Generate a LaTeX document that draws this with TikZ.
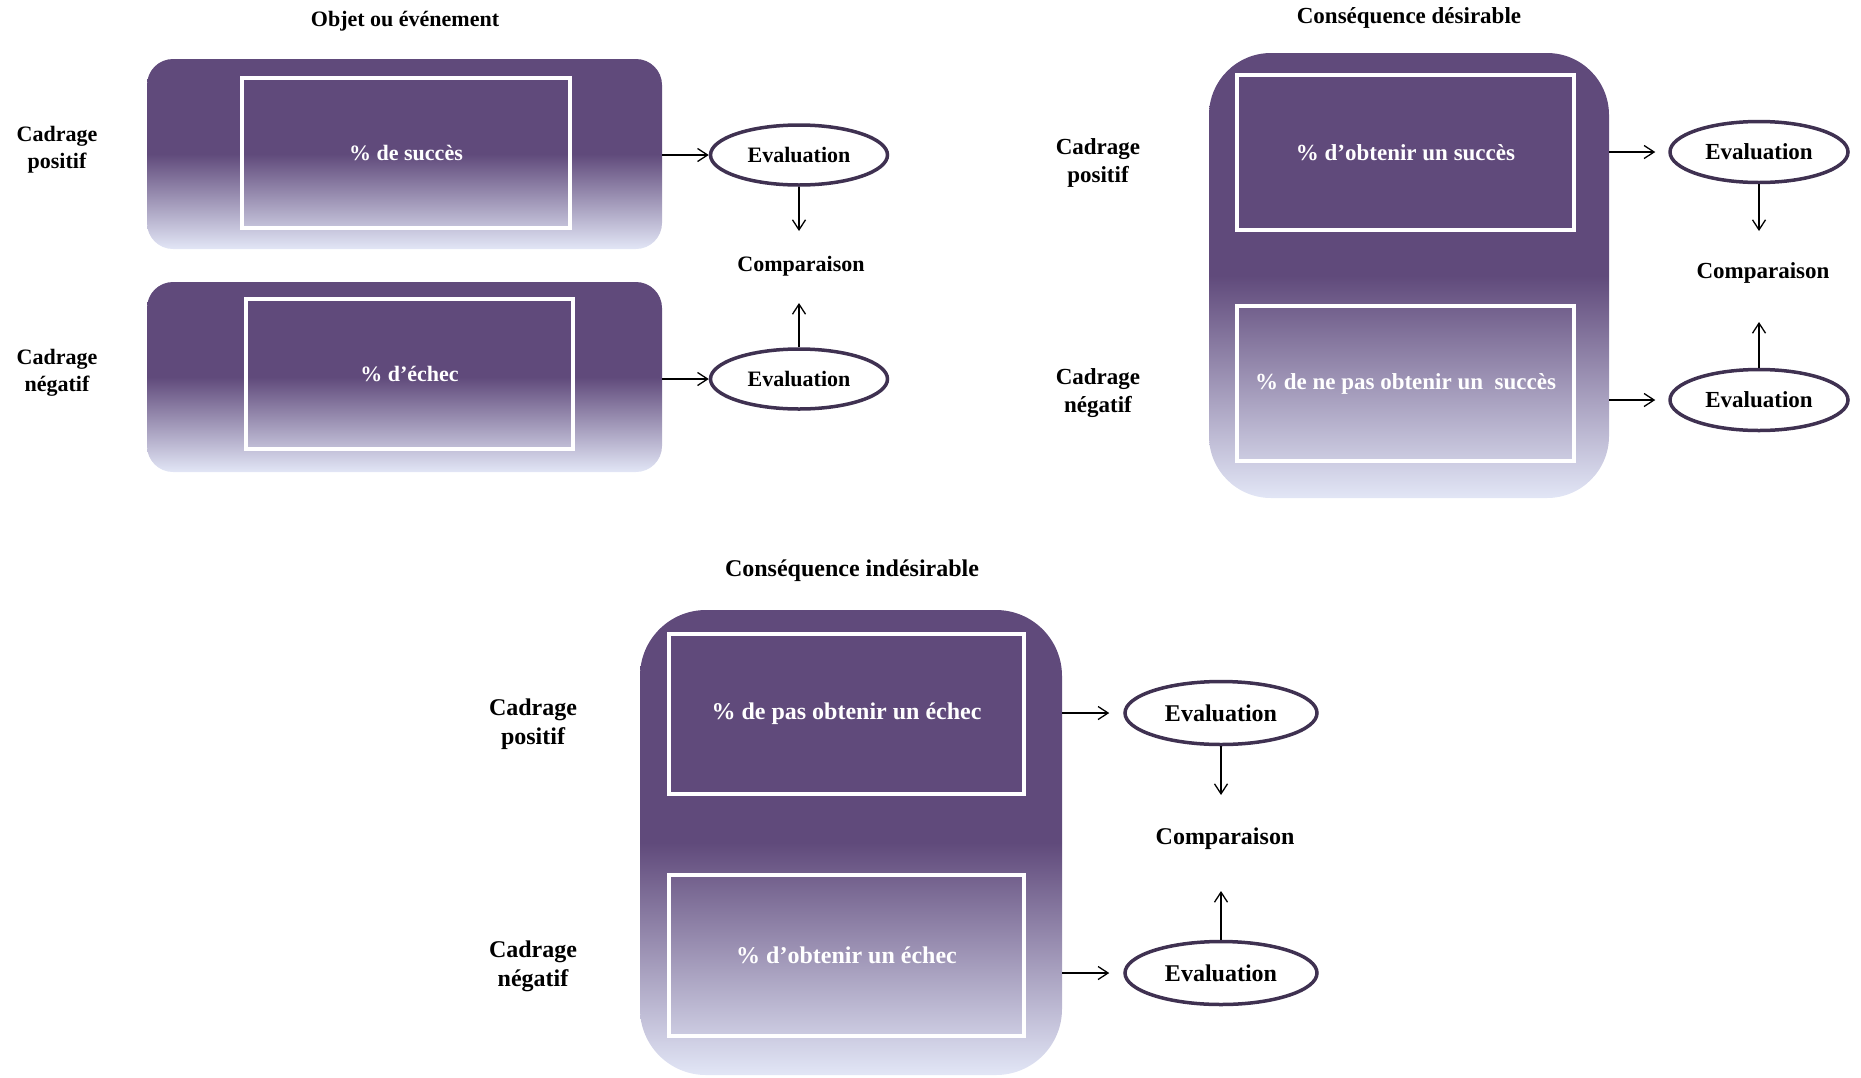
\documentclass[tikz,border=0pt]{standalone}
\usepackage{fontspec}
\setmainfont{Liberation Serif}
\usetikzlibrary{shapes.geometric,arrows.meta,calc}
\definecolor{boxpurple}{HTML}{604A7B}
\definecolor{boxlight}{HTML}{E2E6F6}
\definecolor{ellline}{HTML}{3F3151}
\pgfdeclareverticalshading{boxshade}{100bp}{color(0bp)=(boxlight); color(25bp)=(boxlight); color(50bp)=(boxpurple); color(100bp)=(boxpurple)}
\begin{document}
\begin{tikzpicture}[x=1pt,y=-1pt,
  fa/.style={font=\bfseries\fontsize{22}{27}\selectfont},
  fb/.style={font=\bfseries\fontsize{23}{28}\selectfont},
  fc/.style={font=\bfseries\fontsize{24}{29}\selectfont},
  outerbox/.style={shade, shading=boxshade, draw=none, inner sep=0pt},
  innerbox/.style={draw=white, line width=4pt, fill=none, text=white, inner sep=0pt},
  evalnode/.style={ellipse, draw=ellline, line width=3.5pt, fill=white, inner sep=0pt},
  lbl/.style={align=center, inner sep=0pt},
  arr/.style={-{Straight Barb[length=10pt,width=13pt]}, line width=1.3pt, black}
]
\useasboundingbox (0,0) rectangle (1861,1077);

% ---------- Panel 1 ----------
\node[fa, inner sep=0pt] (t1) at (405,21) {Objet ou événement};
\node[outerbox, rounded corners=26pt, minimum width=515, minimum height=190] (o1a) at (404.5,154) {};
\node[outerbox, rounded corners=26pt, minimum width=515, minimum height=190] (o1b) at (404.5,377) {};
\node[innerbox, fa, minimum width=328, minimum height=150] (i1a) at (406,153) {\% de succès};
\node[innerbox, fa, minimum width=327, minimum height=150] (i1b) at (409.5,374) {\% d’échec};
\node[lbl, fa] (l1a) at (57,150) {Cadrage\\positif};
\node[lbl, fa] (l1b) at (57,373) {Cadrage\\négatif};
\node[evalnode, fa, minimum width=177, minimum height=60] (e1a) at (799,155) {Evaluation};
\node[evalnode, fa, minimum width=177, minimum height=60] (e1b) at (799,379) {Evaluation};
\node[fa, inner sep=0pt] (c1) at (801,266) {Comparaison};
\coordinate (d1a) at (799,231);
\coordinate (d1b) at (799,303);
\draw[arr] (o1a.east |- e1a) -- (e1a.west);
\draw[arr] (o1b.east |- e1b) -- (e1b.west);
\draw[arr] (e1a.south) -- (d1a);
\draw[arr] (e1b.north) -- (d1b);

% ---------- Panel 2 ----------
\node[fb, inner sep=0pt] (t2) at (1409,18) {Conséquence désirable};
\node[outerbox, rounded corners=62pt, minimum width=400, minimum height=445] (o2) at (1409,275.5) {};
\node[innerbox, fb, minimum width=337, minimum height=155] (i2a) at (1405.5,152.5) {\% d’obtenir un succès};
\node[innerbox, fb, minimum width=337, minimum height=155] (i2b) at (1405.5,383.5) {\% de ne pas obtenir un \ succès};
\node[lbl, fb] (l2a) at (1098,163) {Cadrage\\positif};
\node[lbl, fb] (l2b) at (1098,393) {Cadrage\\négatif};
\node[evalnode, fb, minimum width=178, minimum height=61] (e2a) at (1759,152) {Evaluation};
\node[evalnode, fb, minimum width=178, minimum height=61] (e2b) at (1759,400) {Evaluation};
\node[fb, inner sep=0pt] (c2) at (1763,273) {Comparaison};
\coordinate (d2a) at (1759,231);
\coordinate (d2b) at (1759,322);
\draw[arr, shorten >=13pt] (o2.east |- e2a) -- (e2a.west);
\draw[arr, shorten >=13pt] (o2.east |- e2b) -- (e2b.west);
\draw[arr] (e2a.south) -- (d2a);
\draw[arr] (e2b.north) -- (d2b);

% ---------- Panel 3 ----------
\node[fc, inner sep=0pt] (t3) at (852,571) {Conséquence indésirable};
\node[outerbox, rounded corners=66pt, minimum width=422, minimum height=465] (o3) at (851,842.5) {};
\node[innerbox, fc, minimum width=355, minimum height=160] (i3a) at (846.5,714) {\% de pas obtenir un échec};
\node[innerbox, fc, minimum width=355, minimum height=161] (i3b) at (846.5,955.5) {\% d’obtenir un échec};
\node[lbl, fc] (l3a) at (533,724) {Cadrage\\positif};
\node[lbl, fc] (l3b) at (533,966) {Cadrage\\négatif};
\node[evalnode, fc, minimum width=192, minimum height=63] (e3a) at (1221,713) {Evaluation};
\node[evalnode, fc, minimum width=192, minimum height=63] (e3b) at (1221,973) {Evaluation};
\node[fc, inner sep=0pt] (c3) at (1225,839) {Comparaison};
\coordinate (d3a) at (1221,795);
\coordinate (d3b) at (1221,891);
\draw[arr, shorten >=14pt] (o3.east |- e3a) -- (e3a.west);
\draw[arr, shorten >=14pt] (o3.east |- e3b) -- (e3b.west);
\draw[arr] (e3a.south) -- (d3a);
\draw[arr] (e3b.north) -- (d3b);
\end{tikzpicture}
\end{document}
